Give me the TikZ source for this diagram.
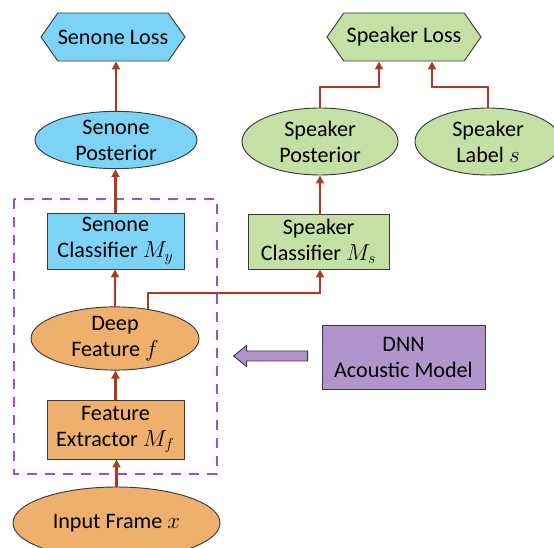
\documentclass[tikz,border=0pt]{standalone}
\usepackage{fontspec}
\setmainfont{Carlito}
\usetikzlibrary{arrows.meta,shapes.geometric,shapes.symbols,calc}
\definecolor{cblue}{HTML}{7DD3F5}
\definecolor{cgreen}{HTML}{C5E0A5}
\definecolor{corange}{HTML}{EFB06E}
\definecolor{cpurple}{HTML}{B294CC}
\definecolor{cdash}{HTML}{9A4FCF}
\definecolor{cconn}{HTML}{AE3A1E}
\definecolor{cedge}{HTML}{3A3A3A}
\begin{document}
\begin{tikzpicture}[x=0.75pt,y=-0.75pt,
  every node/.style={font=\fontsize{16.6}{19.5}\selectfont, align=center, inner sep=0pt, draw=cedge, line width=0.7pt},
  hexa/.style={signal, signal to=west and east, signal pointer angle=110, minimum height=36pt, minimum width=#1},
  ell/.style={ellipse, minimum width=#1},
  boxn/.style={rectangle, minimum width=#1},
  conn/.style={draw=cconn, line width=1.8pt, -{Triangle[length=6pt,width=6pt]}},
  seg/.style={draw=cconn, line width=1.8pt}
]
\useasboundingbox (0,0) rectangle (554,548);
\clip (0,0) rectangle (554,548);
% dashed frame
\draw[cdash, line width=1.9pt, dash pattern=on 7.5pt off 6pt] (14,199) rectangle (217,474);
% left column
\node[hexa=100.5pt, fill=cblue] (sl) at (113,37) {Senone Loss};
\node[ell=121.5pt, minimum height=42pt, fill=cblue] (sp) at (116,140) {Senone\\Posterior};
\node[boxn=102.75pt, minimum height=42pt, fill=cblue] (sc) at (115.5,241) {Senone\\Classifier $M_y$};
\node[ell=126pt, minimum height=45.75pt, fill=corange] (df) at (115,338.5) {Deep\\Feature $f$};
\node[boxn=102.75pt, minimum height=44.25pt, fill=corange] (fe) at (115.5,429.5) {Feature\\Extractor $M_f$};
\node[ell=155.25pt, minimum height=54pt, fill=corange] (in) at (116.5,523) {Input Frame $x$};
% right part
\node[hexa=115.5pt, fill=cgreen] (spl) at (404,37) {Speaker Loss};
\node[ell=117pt, minimum height=50.25pt, fill=cgreen] (spp) at (320,141.5) {Speaker\\Posterior};
\node[ell=109.5pt, minimum height=50.25pt, fill=cgreen] (slb) at (488,141.5) {Speaker\\Label $s$};
\node[boxn=105.75pt, minimum height=41.25pt, fill=cgreen] (spc) at (318.5,241.5) {Speaker\\Classifier $M_s$};
\node[boxn=122.25pt, minimum height=48pt, fill=cpurple] (dnn) at (403.5,357) {DNN\\Acoustic Model};
% connectors
\draw[conn] (sp.north) -- (sp.north |- sl.south);
\draw[conn] (sc.north) -- (sc.north |- sp.south);
\draw[conn] (df.north) -- (df.north |- sc.south);
\draw[conn] (fe.north) -- (fe.north |- df.south);
\draw[conn] (in.north) -- (in.north |- fe.south);
\coordinate (jy) at (0,293);
\draw[conn] (df.42) |- (spp.south |- jy) -- (spp.south |- spc.south);
\draw[conn] (spc.north) -- (spc.north -| spp.south) -- (spp.south);
\coordinate (ka) at (379,87);
\coordinate (kb) at (432,87);
\draw[conn] (spp.north) |- (ka) -- (ka |- spl.south);
\draw[conn] (slb.north) |- (kb) -- (kb |- spl.south);
% fat arrow
\draw[cedge, line width=0.7pt, fill=cpurple]
  ($(dnn.west)+(-14,-6)$) -- ($(dnn.west)+(-75,-6)$) -- ($(dnn.west)+(-75,-11.5)$)
  -- ($(dnn.west)+(-88,-1)$) -- ($(dnn.west)+(-75,9.5)$) -- ($(dnn.west)+(-75,4)$)
  -- ($(dnn.west)+(-14,4)$) -- cycle;
\end{tikzpicture}
\end{document}
